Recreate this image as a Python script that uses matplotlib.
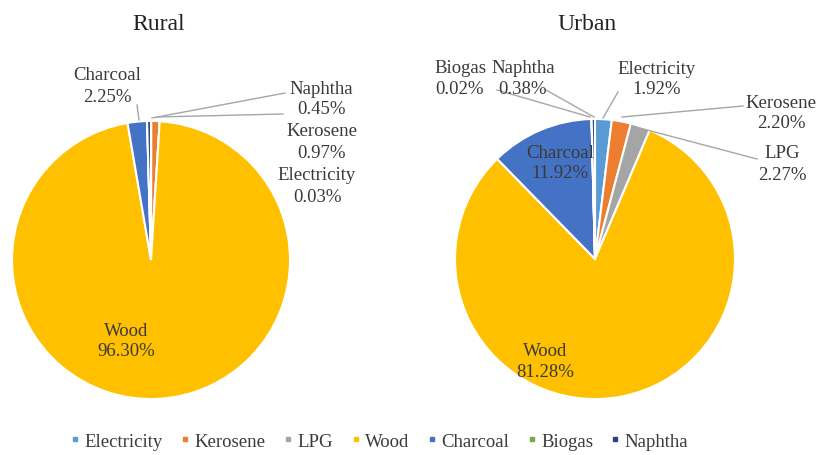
import matplotlib.pyplot as plt

plt.rcParams["font.family"] = ["Liberation Serif", "DejaVu Serif"]

fuels = ["Electricity", "Kerosene", "LPG", "Wood", "Charcoal", "Biogas", "Naphtha"]
colors = ["#5B9BD5", "#ED7D31", "#A5A5A5", "#FFC000", "#4472C4", "#70AD47", "#264478"]

rural = [0.03, 0.97, 0.0, 96.30, 2.25, 0.0, 0.45]
urban = [1.92, 2.20, 2.27, 81.28, 11.92, 0.02, 0.38]

W, H = 819, 456
TXT = "#3A3A3A"
LINE = "#A6A6A6"

fig = plt.figure(figsize=(W / 100, H / 100), dpi=100)
ax = fig.add_axes([0, 0, 1, 1])


def Y(y):
    # positions below are measured from the top edge
    return H - y


def draw_pie(values, cx, cy, r):
    ex = [0.03] * len(values)
    ax.pie(values, colors=colors, startangle=90, counterclock=False,
           center=(cx, Y(cy)), radius=r, explode=ex, frame=True,
           wedgeprops=dict(edgecolor="white", linewidth=1.5))


draw_pie(rural, 151, 261, 139)
draw_pie(urban, 595, 260, 140)
ax.set_xlim(0, W)
ax.set_ylim(0, H)
ax.set_aspect("equal")
ax.axis("off")


def label(name, val, x, y, fs=13.5):
    ax.text(x, Y(y), name, ha="center", va="center", fontsize=fs, color=TXT)
    ax.text(x, Y(y + 21), f"{val:.2f}%", ha="center", va="center", fontsize=fs, color=TXT)


def leader(x0, y0, x1, y1):
    ax.plot([x0, x1], [Y(y0), Y(y1)], color=LINE, lw=1)


# Rural
ax.text(159, Y(24), "Rural", ha="center", va="center", fontsize=17, color="#222222")
label("Charcoal", rural[4], 107, 76)
leader(137, 106, 139, 121)
label("Naphtha", rural[6], 321, 89)
leader(285, 94, 152, 119)
label("Kerosene", rural[1], 322, 132)
leader(283, 115, 157, 118)
label("Electricity", rural[0], 317, 176)
label("Wood", rural[3], 126, 331)

# Urban
ax.text(587, Y(24), "Urban", ha="center", va="center", fontsize=17, color="#222222")
label("Biogas", urban[5], 460, 68)
leader(497, 91, 590, 118)
label("Naphtha", urban[6], 523, 68)
leader(546, 91, 594, 118)
label("Electricity", urban[0], 657, 69)
leader(618, 93, 603, 119)
label("Kerosene", urban[1], 781, 103)
leader(743, 107, 622, 118)
label("LPG", urban[2], 782, 154)
leader(757, 160, 632, 127)
label("Charcoal", urban[4], 560, 153)
label("Wood", urban[3], 545, 352)

# legend along the bottom
handles = [plt.Line2D([], [], marker="s", ls="", color=c, markersize=3.5) for c in colors]
leg = fig.legend(handles, fuels, loc="center", bbox_to_anchor=(0.464, 0.03), ncol=7,
                 frameon=False, fontsize=13.5, handlelength=0.4, handletextpad=0.3,
                 columnspacing=1.0, labelcolor=TXT)

fig.savefig("out.png", dpi=100, facecolor="white")
